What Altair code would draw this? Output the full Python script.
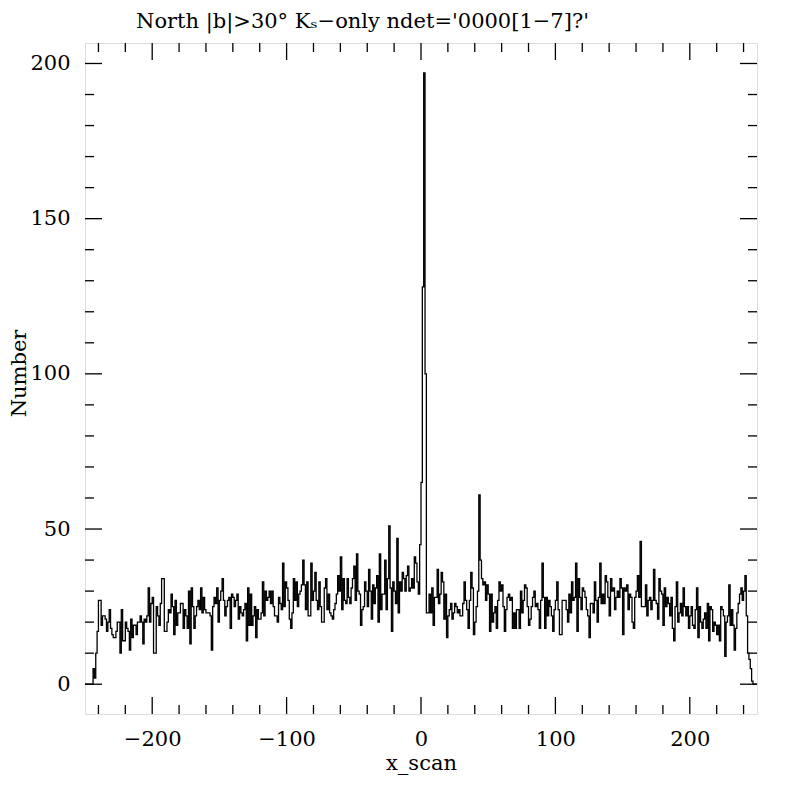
import altair as alt
import pandas as pd

# Histogram counts, 1-unit bins, left edges -250 .. -1
counts_neg = [
    0, 0, 0, 0, 0, 0, 5, 2, 10, 17,
    27, 27, 19, 22, 22, 21, 17, 20, 24, 18,
    16, 15, 15, 17, 20, 20, 10, 24, 14, 14,
    20, 18, 17, 11, 21, 15, 19, 19, 16, 20,
    20, 22, 20, 13, 21, 20, 22, 31, 20, 26,
    28, 10, 10, 25, 22, 19, 26, 34, 34, 17,
    17, 20, 24, 23, 29, 25, 16, 27, 19, 23,
    23, 26, 26, 18, 24, 22, 18, 30, 13, 31,
    25, 18, 22, 25, 27, 24, 31, 23, 28, 24,
    23, 23, 23, 22, 11, 25, 28, 26, 31, 20,
    27, 30, 34, 27, 22, 25, 27, 28, 18, 29,
    28, 25, 27, 29, 21, 25, 23, 22, 24, 26,
    14, 31, 19, 29, 19, 22, 25, 15, 24, 21,
    21, 23, 33, 22, 30, 27, 28, 30, 26, 30,
    25, 22, 22, 20, 28, 26, 24, 39, 25, 33,
    31, 27, 21, 18, 23, 34, 27, 33, 25, 29,
    30, 32, 40, 32, 24, 33, 22, 22, 39, 27,
    30, 36, 27, 24, 33, 25, 20, 20, 31, 34,
    24, 29, 23, 22, 21, 24, 26, 29, 35, 30,
    41, 24, 34, 27, 26, 34, 28, 26, 31, 34,
    38, 27, 42, 30, 29, 19, 24, 25, 33, 30,
    25, 37, 30, 21, 32, 26, 31, 35, 20, 42,
    24, 29, 29, 40, 24, 34, 51, 31, 17, 33,
    30, 26, 47, 23, 33, 30, 36, 34, 30, 35,
    38, 30, 31, 34, 31, 41, 39, 33, 29, 45,
]

# Histogram counts, left edges 0 .. 249
counts_pos = [
    65, 128, 197, 100, 23, 23, 29, 23, 31, 19,
    28, 28, 37, 26, 29, 36, 33, 21, 29, 15,
    22, 24, 26, 21, 23, 26, 25, 23, 24, 22,
    22, 26, 33, 27, 24, 18, 27, 36, 31, 16,
    20, 25, 30, 61, 40, 34, 32, 33, 27, 32,
    29, 17, 29, 20, 23, 25, 18, 27, 33, 30,
    32, 25, 17, 24, 28, 29, 27, 28, 18, 23,
    18, 24, 24, 18, 30, 23, 27, 32, 31, 25,
    19, 21, 25, 28, 30, 25, 26, 24, 18, 27,
    39, 28, 18, 28, 22, 27, 25, 22, 17, 24,
    27, 33, 24, 16, 16, 27, 27, 27, 24, 20,
    29, 23, 33, 27, 28, 39, 17, 34, 28, 24,
    31, 30, 28, 24, 22, 15, 26, 26, 23, 33,
    27, 20, 28, 39, 26, 29, 26, 35, 33, 28,
    22, 34, 30, 31, 24, 28, 30, 28, 34, 31,
    16, 31, 30, 32, 24, 29, 28, 20, 18, 28,
    30, 35, 28, 46, 25, 25, 25, 32, 22, 27,
    28, 24, 27, 37, 27, 26, 21, 34, 30, 29,
    19, 31, 25, 28, 26, 22, 28, 18, 14, 25,
    33, 20, 23, 26, 22, 31, 25, 22, 25, 18,
    22, 25, 19, 18, 24, 31, 15, 25, 20, 18,
    21, 23, 18, 26, 14, 25, 24, 17, 20, 19,
    16, 19, 14, 25, 24, 22, 9, 20, 22, 32,
    19, 24, 19, 11, 18, 23, 26, 29, 31, 27,
    30, 35, 22, 10, 8, 5, 1, 0, 0, 0,
]

bin_lo = -250
bin_width = 1

x_major = [-200, -100, 0, 100, 200]
x_minor = [-240, -220, -180, -160, -140, -120, -80, -60, -40, -20,
           20, 40, 60, 80, 120, 140, 160, 180, 220, 240]
y_major = [0, 50, 100, 150, 200]
y_minor = [10, 20, 30, 40, 60, 70, 80, 90, 110, 120, 130, 140,
           160, 170, 180, 190]

title_text = "North |b|>30° Kₛ−only ndet='0000[1−7]?'"
x_title = "x_scan"
y_title = "Number"

counts = counts_neg + counts_pos
edges = [bin_lo + i * bin_width for i in range(len(counts) + 1)]
hist = pd.DataFrame({"x": edges, "n": counts + [counts[-1]]})

W, H = 672, 671
FONT = "DejaVu Serif"
FS = 21
MAJ, MIN = 17, 9
LW = 1.3

xscale = alt.Scale(domain=[-250, 250], nice=False, zero=False)
yscale = alt.Scale(domain=[-9.6, 206.6], nice=False, zero=False)

xaxis = alt.Axis(values=x_major, ticks=False, domain=False, grid=False,
                 labelPadding=14, labelFont=FONT, labelFontSize=FS,
                 labelColor="black", labelFlush=False, labelOverlap=False,
                 title=x_title, titleFont=FONT, titleFontSize=FS,
                 titleFontWeight="normal", titleColor="black",
                 titleBaseline="alphabetic", titleY=55)
yaxis = alt.Axis(values=y_major, ticks=False, domain=False, grid=False,
                 labelPadding=15, labelFont=FONT, labelFontSize=FS,
                 labelColor="black", labelFlush=False, labelOverlap=False,
                 title=y_title, titleFont=FONT, titleFontSize=FS,
                 titleFontWeight="normal", titleColor="black",
                 titleBaseline="alphabetic", titleX=-60, titleY=330)

line = alt.Chart(hist).mark_line(
    interpolate="step-after", color="black", strokeWidth=LW
).encode(
    x=alt.X("x:Q", scale=xscale, axis=xaxis, title=x_title),
    y=alt.Y("n:Q", scale=yscale, axis=yaxis, title=y_title),
)

xmaj = pd.DataFrame({"x": x_major})
xmin = pd.DataFrame({"x": x_minor})
ymaj = pd.DataFrame({"n": y_major})
ymin = pd.DataFrame({"n": y_minor})


def xticks(df, ln):
    enc_x = alt.X("x:Q", scale=xscale, axis=xaxis, title=x_title)
    bottom = alt.Chart(df).mark_rule(color="black", strokeWidth=LW).encode(
        x=enc_x, y=alt.value(H), y2=alt.value(H - ln))
    top = alt.Chart(df).mark_rule(color="black", strokeWidth=LW).encode(
        x=enc_x, y=alt.value(0), y2=alt.value(ln))
    return [bottom, top]


def yticks(df, ln):
    enc_y = alt.Y("n:Q", scale=yscale, axis=yaxis, title=y_title)
    left = alt.Chart(df).mark_rule(color="black", strokeWidth=LW).encode(
        y=enc_y, x=alt.value(0), x2=alt.value(ln))
    right = alt.Chart(df).mark_rule(color="black", strokeWidth=LW).encode(
        y=enc_y, x=alt.value(W), x2=alt.value(W - ln))
    return [left, right]


title_mark = alt.Chart(pd.DataFrame({"t": [title_text]})).mark_text(
    align="left", baseline="alphabetic", font=FONT, fontSize=FS,
    color="black"
).encode(text="t:N", x=alt.value(51), y=alt.value(-15))

layers = ([line] + xticks(xmaj, MAJ) + xticks(xmin, MIN)
          + yticks(ymaj, MAJ) + yticks(ymin, MIN) + [title_mark])

chart = alt.layer(*layers).properties(
    width=W, height=H,
    autosize=alt.AutoSizeParams(type="none"),
    padding={"left": 77, "top": 35, "right": 35, "bottom": 70},
).configure_view(stroke="black", strokeWidth=LW).configure(background="white")

chart.save("out.html", embed_options={"renderer": "svg", "actions": False})
